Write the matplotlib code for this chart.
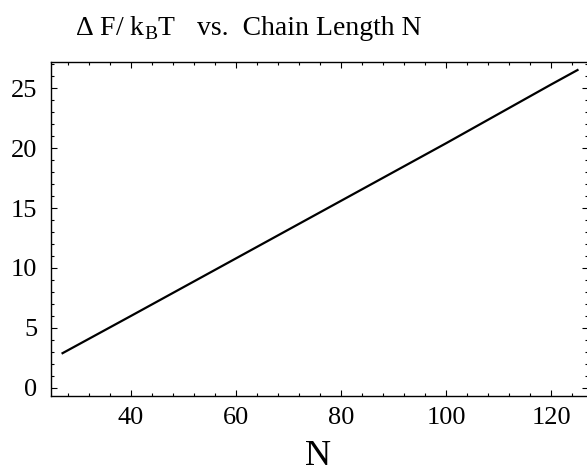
import matplotlib
matplotlib.use("Agg")
import matplotlib.pyplot as plt
from matplotlib.ticker import MultipleLocator

# values
chain_n = [27, 40, 60, 80, 100, 120, 125]
delta_f = [2.9, 6.0, 10.8, 15.6, 20.4, 25.3, 26.5]

plt.rcParams["font.family"] = ["Liberation Serif", "DejaVu Serif"]
plt.rcParams["mathtext.fontset"] = "custom"
plt.rcParams["mathtext.rm"] = "Liberation Serif"

fig = plt.figure(figsize=(5.87, 4.74), dpi=100)
ax = fig.add_axes([51 / 587, 1 - 396 / 474, 537 / 587, 334 / 474])

ax.plot(chain_n, delta_f, color="black", linewidth=1.6)

ax.set_xlim(24.8, 127.0)
ax.set_ylim(-0.67, 27.17)
ax.xaxis.set_major_locator(MultipleLocator(20))
ax.xaxis.set_minor_locator(MultipleLocator(4))
ax.yaxis.set_major_locator(MultipleLocator(5))
ax.yaxis.set_minor_locator(MultipleLocator(1))

ax.tick_params(which="both", direction="in", top=True, right=True,
               labelsize=19, width=0.8)
ax.tick_params(which="major", length=4)
ax.tick_params(which="minor", length=2)
ax.tick_params(axis="y", pad=10)
ax.tick_params(axis="x", pad=8)
for sp in ax.spines.values():
    sp.set_linewidth(1.0)

# title in two pieces, as in the original
fig.text(75 / 587, 1 - 35 / 474, "Δ F/ k$_{\\mathrm{B}}$T", fontsize=20,
         va="baseline", ha="left")
fig.text(197 / 587, 1 - 35 / 474, "vs.  Chain Length N", fontsize=20,
         va="baseline", ha="left")

fig.text(318 / 587, 1 - 465 / 474, "N", fontsize=26, ha="center", va="baseline")

fig.savefig("out.png", dpi=100)
